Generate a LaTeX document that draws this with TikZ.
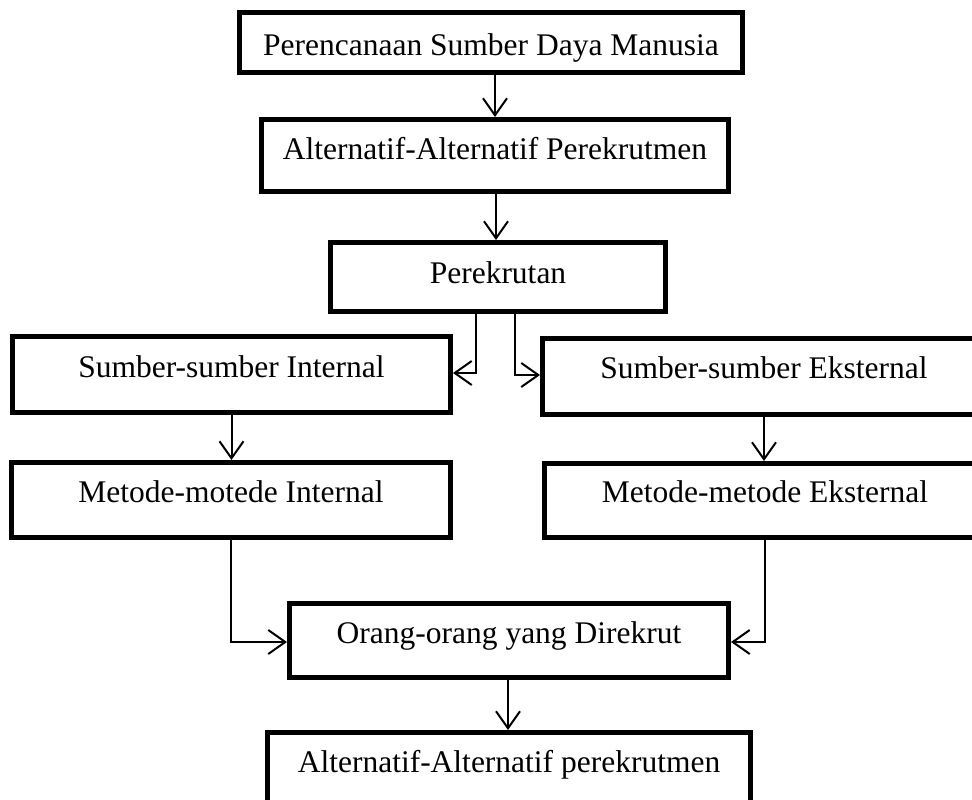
\documentclass[tikz,border=0pt]{standalone}
\usepackage{fontspec}
\setmainfont{Liberation Serif}
\usetikzlibrary{arrows.meta}
\tikzset{
  boxnode/.style={draw, line width=5pt, rectangle, inner sep=0pt, font=\fontsize{31.5}{36}\selectfont},
  arr/.style={line width=2pt, -{Straight Barb[length=17pt,width=24pt]}},
  conn/.style={line width=2pt}
}
\begin{document}
\begin{tikzpicture}[x=1pt,y=-1pt]
\useasboundingbox (0,0) rectangle (972,800);
\clip (0,0) rectangle (972,800);
% boxes (text height = 20+o, text depth = 20-o, o = baseline offset below centre)
\node[boxnode, minimum width=503pt, minimum height=60pt, text height=33pt, text depth=7pt] (b1) at (491,42.5) {Perencanaan Sumber Daya Manusia};
\node[boxnode, minimum width=467pt, minimum height=72pt, text height=23.5pt, text depth=16.5pt] (b2) at (495,155.5) {Alternatif-Alternatif Perekrutmen};
\node[boxnode, minimum width=335pt, minimum height=69pt, text height=26pt, text depth=14pt] (b3) at (498,277) {Perekrutan};
\node[boxnode, minimum width=438pt, minimum height=76pt, text height=22.5pt, text depth=17.5pt] (b4) at (231.5,374.5) {Sumber-sumber Internal};
\node[boxnode, minimum width=443pt, minimum height=76pt, text height=21.5pt, text depth=18.5pt] (b5) at (764,376.5) {Sumber-sumber Eksternal};
\node[boxnode, minimum width=439pt, minimum height=75pt, text height=22pt, text depth=18pt] (b6) at (231,500) {Metode-motede Internal};
\node[boxnode, minimum width=441pt, minimum height=74pt, text height=21.5pt, text depth=18.5pt] (b7) at (765,500.5) {Metode-metode Eksternal};
\node[boxnode, minimum width=439pt, minimum height=74pt, text height=22.5pt, text depth=17.5pt] (b8) at (509,640.5) {Orang-orang yang Direkrut};
\node[boxnode, minimum width=483pt, minimum height=74pt, text height=22.5pt, text depth=17.5pt] (b9) at (509,769.5) {Alternatif-Alternatif perekrutmen};
% connectors
\draw[arr] ([xshift=4pt]b1.south) -- ([xshift=4pt]b1.south |- b2.north);
\draw[arr] ([xshift=1pt]b2.south) -- ([xshift=1pt]b2.south |- b3.north);
\draw[arr] ([xshift=-22pt]b3.south) |- ([yshift=1.5pt]b4.east);
\draw[arr] ([xshift=17pt]b3.south) |- ([yshift=1.5pt]b5.west);
\draw[arr] (b4.south) -- (b4.south |- b6.north);
\draw[arr] (b5.south) -- (b5.south |- b7.north);
\draw[arr] (b6.south) |- ([yshift=-1.5pt]b8.west);
\draw[arr] (b7.south) |- ([yshift=-1.5pt]b8.east);
\draw[arr] ([xshift=-1pt]b8.south) -- ([xshift=-1pt]b8.south |- b9.north);
\end{tikzpicture}
\end{document}
